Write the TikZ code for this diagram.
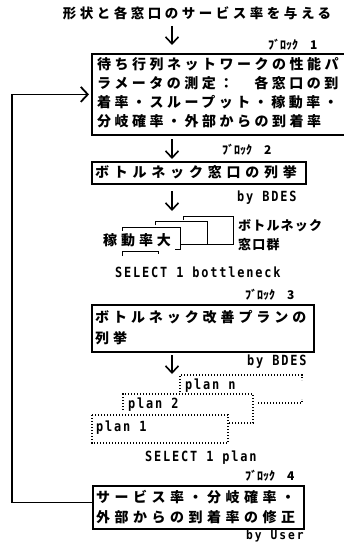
\documentclass[tikz,border=0pt]{standalone}
\usepackage{fontspec}
\usetikzlibrary{arrows.meta}
\newfontfamily\jp{Noto Sans CJK JP}
\newfontfamily\mono{DejaVu Sans Mono}
\newcommand\jpf[2]{\jp\bfseries\fontsize{#1}{#1}\selectfont\addfontfeature{LetterSpace=#2}}
\newcommand\monof{\mono\bfseries\fontsize{14}{14}\selectfont\addfontfeature{FakeStretch=0.85,LetterSpace=13}}
\tikzset{
  box/.style={draw, line width=1.8pt, anchor=north west, inner sep=0pt},
  arr/.style={line width=1.6pt, -{Straight Barb[length=7pt,width=13pt,line width=1.6pt]}},
  txt/.style={anchor=west, inner sep=0pt},
  blk/.style={txt, font=\jp\bfseries\fontsize{12}{12}\selectfont},
  mono/.style={txt, font=\monof},
  sketch/.style={line width=1pt},
  dots/.style={line width=1.2pt, dash pattern=on 1.1pt off 1.9pt},
}
\begin{document}
\begin{tikzpicture}[x=1pt, y=-1pt]
\useasboundingbox (0,0) rectangle (344,543);
\clip (0,0) rectangle (344,543);

% title
\node[inner sep=0pt, font=\jpf{13.5}{26}] (title) at (197,13) {形状と各窓口のサービス率を与える};
\coordinate (a1s) at (172,26);
\coordinate (a1e) at (172,45);
\draw[arr] (a1s) -- (a1e);

% block 1
\node[blk] (k1) at (268,45) {ﾌﾞﾛｯｸ\hspace{12pt}1};
\node[box, minimum width=270pt, minimum height=81pt] (b1) at (91,53) {};
\node[txt, font=\jpf{14}{25}] (b1l1) at (97,64) {待ち行列ネットワークの性能パ};
\node[txt, font=\jpf{14}{25}] (b1l2) at (97,83) {ラメータの測定：　各窓口の到};
\node[txt, font=\jpf{14}{25}] (b1l3) at (97,102.5) {着率・スループット・稼動率・};
\node[txt, font=\jpf{14}{25}] (b1l4) at (97,121.5) {分岐確率・外部からの到着率};

\coordinate (a2s) at (172,139);
\coordinate (a2e) at (172,159);
\draw[arr] (a2s) -- (a2e);

% block 2
\node[blk] (k2) at (222,150) {ﾌﾞﾛｯｸ\hspace{12pt}2};
\node[box, minimum width=214pt, minimum height=22pt] (b2) at (91,161) {};
\node[txt, font=\jpf{14}{34}] (b2l1) at (95,172) {ボトルネック窓口の列挙};

\coordinate (a3s) at (172,191);
\coordinate (a3e) at (172,211);
\draw[arr] (a3s) -- (a3e);
\node[mono] (by1) at (237,198) {by BDES};

% stacked window cards
\draw[sketch] (183,220) -- (183,216) -- (233,216) -- (233,244) -- (208,244);
\draw[sketch] (155,225) -- (155,221) -- (207,221) -- (207,244) -- (181,244);
\draw[sketch] (122,231) -- (122,227) -- (180,227) -- (180,249) -- (175,249);
\draw[sketch] (122,256) -- (122,251) -- (158,251) -- (158,254);
\node[txt, font=\jpf{14}{28}] (kado) at (103,240) {稼動率大};
\node[txt, font=\jpf{13}{9}] (bn1) at (238,226) {ボトルネック};
\node[txt, font=\jpf{13}{9}] (bn2) at (238,245) {窓口群};

\node[mono] (sel1) at (115,272) {SELECT 1 bottleneck};

% block 3
\node[blk] (k3) at (245,295) {ﾌﾞﾛｯｸ\hspace{12pt}3};
\node[box, minimum width=222pt, minimum height=47pt] (b3) at (91,304) {};
\node[txt, font=\jpf{14}{28}] (b3l1) at (95,317) {ボトルネック改善プランの};
\node[txt, font=\jpf{14}{28}] (b3l2) at (95,338) {列挙};

\coordinate (a4s) at (172,355);
\coordinate (a4e) at (172,374);
\draw[arr] (a4s) -- (a4e);
\node[mono] (by2) at (247,362) {by BDES};

% plan cards
\draw[dots] (180,392) -- (180,375) -- (302,375) -- (302,380);
\draw[dots] (258,403) -- (302,403) -- (302,399);
\node[mono] (pn) at (185,386) {plan n};
\draw[dots] (123,410) -- (123,394) -- (253,394) -- (253,423) -- (228,423);
\node[mono] (p2) at (128,405) {plan 2};
\draw[dots] (92,415) rectangle (228,443);
\node[mono] (p1) at (96,428) {plan 1};

\node[mono] (sel2) at (145,458) {SELECT 1 plan};

% block 4
\node[blk] (k4) at (245,476) {ﾌﾞﾛｯｸ\hspace{12pt}4};
\node[box, minimum width=211pt, minimum height=43pt] (b4) at (92,485) {};
\node[txt, font=\jpf{14}{32}] (b4l1) at (96,497) {サービス率・分岐確率・};
\node[txt, font=\jpf{14}{32}] (b4l2) at (96,517.5) {外部からの到着率の修正};
\node[txt, font=\mono\bfseries\fontsize{12.5}{12.5}\selectfont\addfontfeature{FakeStretch=0.9,LetterSpace=16}] (byu) at (246,536.5) {by User};

% feedback loop
\draw[line width=1.8pt, -{Straight Barb[length=7pt,width=15pt,line width=1.8pt]}]
  ([yshift=5pt]b4.west) -- ++(-80,0) |- ([xshift=-2pt]b1.west);
\end{tikzpicture}
\end{document}
